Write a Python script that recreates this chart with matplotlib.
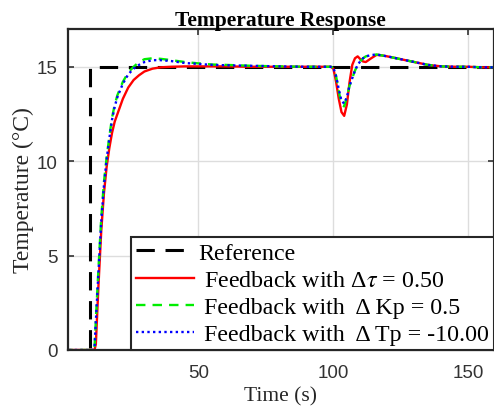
import matplotlib
matplotlib.use("Agg")
import matplotlib.pyplot as plt

# step reference
ref_t = [0, 10, 10, 160]
ref_y = [0, 0, 15, 15]

# shared time base for the three feedback runs
t = [0, 5, 10, 11, 11.5, 12, 13, 14, 15, 16, 17, 18, 19, 20, 22, 24, 26, 28, 30,
     33, 36, 40, 45, 50, 55, 60, 70, 80, 90, 99, 100, 101, 102, 103, 104, 105, 106,
     107, 108, 109, 110, 111, 112, 114, 116, 118, 120, 125, 130, 135, 140, 145,
     150, 155, 160]

y_tau = [0, 0, 0, 0, 0, 0.3, 3.5, 6.3, 8.3, 9.7, 10.7, 11.5, 12.1, 12.5, 13.3, 13.9,
         14.3, 14.55, 14.75, 14.9, 14.97, 15.0, 15.02, 15.02, 15.02, 15.02, 15.0,
         15.0, 15.0, 15.0, 14.9, 14.2, 13.3, 12.6, 12.4, 13.0, 14.2, 15.1, 15.45,
         15.55, 15.4, 15.28, 15.25, 15.45, 15.63, 15.6, 15.55, 15.4, 15.25, 15.1,
         15.02, 15.0, 15.0, 14.97, 14.97]

y_kp = [0, 0, 0, 0, 0.1, 1.6, 4.4, 7.0, 8.9, 10.2, 11.3, 12.3, 13.0, 13.5, 14.2,
        14.7, 15.0, 15.25, 15.4, 15.45, 15.42, 15.35, 15.25, 15.18, 15.12, 15.1,
        15.05, 15.02, 15.0, 15.0, 14.95, 14.5, 13.7, 13.0, 12.9, 13.4, 14.0, 14.4,
        14.8, 15.1, 15.3, 15.45, 15.55, 15.62, 15.65, 15.6, 15.55, 15.4, 15.25, 15.1,
        15.02, 15.0, 15.0, 14.97, 14.97]

y_tp = [0, 0, 0, 0, 0.1, 1.5, 4.2, 6.8, 8.7, 10.1, 11.2, 12.2, 12.9, 13.4, 14.1,
        14.6, 14.9, 15.1, 15.25, 15.35, 15.35, 15.3, 15.2, 15.15, 15.1, 15.08,
        15.05, 15.02, 15.0, 15.0, 14.95, 14.5, 13.8, 13.2, 13.05, 13.4, 14.0, 14.4,
        14.8, 15.1, 15.3, 15.45, 15.55, 15.62, 15.65, 15.6, 15.55, 15.4, 15.25, 15.1,
        15.02, 15.0, 15.0, 14.97, 14.97]

labels = ["Reference",
          " Feedback with \u0394$\\tau$ = 0.50",
          " Feedback with  \u0394 Kp = 0.5",
          " Feedback with  \u0394 Tp = -10.00"]

plt.rcParams["font.family"] = "Liberation Serif"
plt.rcParams["mathtext.fontset"] = "stix"

fig = plt.figure(figsize=(4.94, 4.10), dpi=100)
ax = fig.add_axes([67.5 / 494, 59 / 410, 1 - 67.5 / 494, 321 / 410])

ax.plot(ref_t, ref_y, color="black", lw=2.2, dashes=(6, 3.5), label=labels[0])
ax.plot(t, y_tau, color="red", lw=1.7, label=labels[1])
ax.plot(t, y_kp, color="#00ee00", lw=1.7, dashes=(4, 3), label=labels[2])
ax.plot(t, y_tp, color="blue", lw=1.7, dashes=(1, 1.4), label=labels[3])

ax.set_xlim(1.5, 159.5)
ax.set_ylim(0, 17)
ax.set_xticks([50, 100, 150])
ax.set_yticks([0, 5, 10, 15])
ax.grid(True, color="#dddddd", lw=1)
ax.set_axisbelow(True)

for lab in ax.get_xticklabels() + ax.get_yticklabels():
    lab.set_family("Liberation Sans")
ax.tick_params(direction="in", length=4, width=1.2, labelsize=13.5, colors="#333333",
               top=True, right=True)
ax.tick_params(axis="x", pad=10)
ax.tick_params(axis="y", pad=7)
for s in ax.spines.values():
    s.set_linewidth(1.6)
    s.set_color("#262626")

ax.set_xlabel("Time (s)", fontsize=15.5, labelpad=4, color="#262626")
ax.set_ylabel("Temperature (\u00b0C)", fontsize=17, labelpad=2, color="#262626")
ax.set_title("Temperature Response", fontsize=15.5, fontweight="bold", pad=3)

leg = ax.legend(loc="lower right", fontsize=17.3, handlelength=2.4, handletextpad=0.2,
                labelspacing=0.22, borderaxespad=0, borderpad=0.2, fancybox=False,
                framealpha=1)
leg.get_frame().set_edgecolor("#262626")
leg.get_frame().set_linewidth(1.5)

plt.savefig("out.png", dpi=100)
